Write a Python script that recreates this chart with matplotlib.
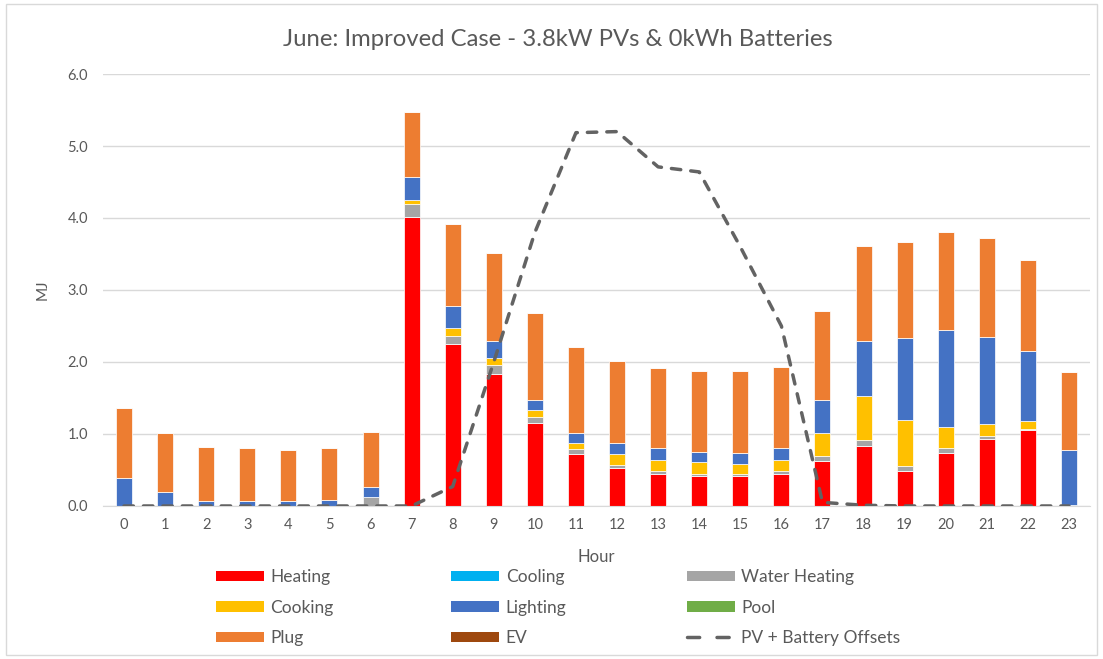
import numpy as np
import matplotlib.pyplot as plt
from matplotlib.patches import Patch, Rectangle
from matplotlib.lines import Line2D

plt.rcParams['font.family'] = ['Lato', 'DejaVu Sans']

# данные по часам, MJ
hours = list(range(24))
heating = [0, 0, 0, 0, 0, 0, 0, 4.01, 2.25, 1.84, 1.15, 0.72, 0.53, 0.45,
           0.41, 0.41, 0.45, 0.625, 0.84, 0.49, 0.74, 0.935, 1.05, 0]
cooling = [0] * 24
water_heating = [0, 0, 0, 0, 0, 0, 0.13, 0.18, 0.115, 0.12, 0.08, 0.07, 0.035,
                 0.035, 0.035, 0.03, 0.04, 0.075, 0.08, 0.07, 0.06, 0.04, 0.02, 0.01]
cooking = [0, 0, 0, 0, 0, 0, 0, 0.06, 0.105, 0.09, 0.10, 0.09, 0.155, 0.155,
           0.16, 0.14, 0.15, 0.32, 0.61, 0.63, 0.30, 0.16, 0.11, 0]
lighting = [0.39, 0.19, 0.07, 0.07, 0.07, 0.09, 0.14, 0.315, 0.31, 0.24, 0.14,
            0.14, 0.16, 0.16, 0.14, 0.16, 0.16, 0.45, 0.76, 1.14, 1.35, 1.21, 0.97, 0.77]
pool = [0] * 24
plug = [0.975, 0.82, 0.745, 0.73, 0.71, 0.71, 0.76, 0.905, 1.14, 1.23, 1.21,
        1.19, 1.13, 1.11, 1.135, 1.14, 1.135, 1.24, 1.32, 1.33, 1.35, 1.375, 1.26, 1.08]
ev = [0] * 24
pv_offsets = [0, 0, 0, 0, 0, 0, 0, 0, 0.27, 2.0, 3.8, 5.185, 5.2, 4.71, 4.64,
              3.6, 2.5, 0.05, 0.01, 0, 0, 0, 0, 0]

series = [
    ('Heating', heating, '#FF0000'),
    ('Cooling', cooling, '#00B0F0'),
    ('Water Heating', water_heating, '#A5A5A5'),
    ('Cooking', cooking, '#FFC000'),
    ('Lighting', lighting, '#4472C4'),
    ('Pool', pool, '#70AD47'),
    ('Plug', plug, '#ED7D31'),
    ('EV', ev, '#9E480E'),
]
line_color = '#636363'
text_color = '#595959'
grid_color = '#D9D9D9'

fig = plt.figure(figsize=(11.03, 6.59), dpi=100)
ax = fig.add_axes([0.0938, 0.2322, 0.894, 0.6555])

bottom = np.zeros(24)
for name, vals, col in series:
    vals = np.array(vals)
    ax.bar(hours, vals, width=0.39, bottom=bottom, color=col,
           edgecolor='white', linewidth=0.5, zorder=2)
    bottom += vals

ax.plot(hours, pv_offsets, color=line_color, lw=2.5, dashes=(2.7, 2.9),
        dash_capstyle='round', solid_capstyle='round', zorder=3)

ax.set_xlim(-0.5, 23.5)
ax.set_ylim(0, 6)
ax.set_yticks(np.arange(0, 6.01, 1.0))
ax.set_yticklabels([f'{v:.1f}' for v in np.arange(0, 6.01, 1.0)])
ax.set_xticks(hours)
ax.tick_params(axis='both', length=0, labelsize=10.5, colors=text_color)
ax.tick_params(axis='x', pad=9)
ax.tick_params(axis='y', pad=11)
ax.grid(axis='y', color=grid_color, lw=1, zorder=0)
ax.set_axisbelow(True)
for s in ['top', 'right', 'left']:
    ax.spines[s].set_visible(False)
ax.spines['bottom'].set_color(grid_color)

ax.set_xlabel('Hour', fontsize=12, color=text_color, labelpad=12)
fig.text(43 / 1103, 1 - 290 / 659, 'MJ', rotation=90, fontsize=11,
         color=text_color, ha='center', va='center')

fig.text(558 / 1103, 1 - 40 / 659, 'June: Improved Case - 3.8kW PVs & 0kWh Batteries',
         fontsize=17.2, color=text_color, ha='center', va='center')

# легенда: три колонки
handles = {name: Patch(facecolor=col, edgecolor='none') for name, _, col in series}
handles['PV + Battery Offsets'] = Line2D([], [], color=line_color, lw=2.5,
                                         dashes=(3.5, 5.0), dash_capstyle='round')
columns = [
    (215.6, ['Heating', 'Cooking', 'Plug']),
    (451.0, ['Cooling', 'Lighting', 'EV']),
    (686.6, ['Water Heating', 'Pool', 'PV + Battery Offsets']),
]
for x0, names in columns:
    fig.legend([handles[n] for n in names], names, loc='upper left',
               bbox_to_anchor=(x0 / 1103, 1 - 569 / 659), frameon=False,
               borderpad=0, borderaxespad=0, fontsize=12.5, labelcolor=text_color,
               handlelength=2.76, handleheight=0.57, handletextpad=0.4,
               labelspacing=0.84)

fig.add_artist(Rectangle((6 / 1103, 4 / 659), 1091 / 1103, 651 / 659,
                         transform=fig.transFigure, fill=False,
                         edgecolor=grid_color, lw=1))

fig.savefig('out.png', dpi=100)
